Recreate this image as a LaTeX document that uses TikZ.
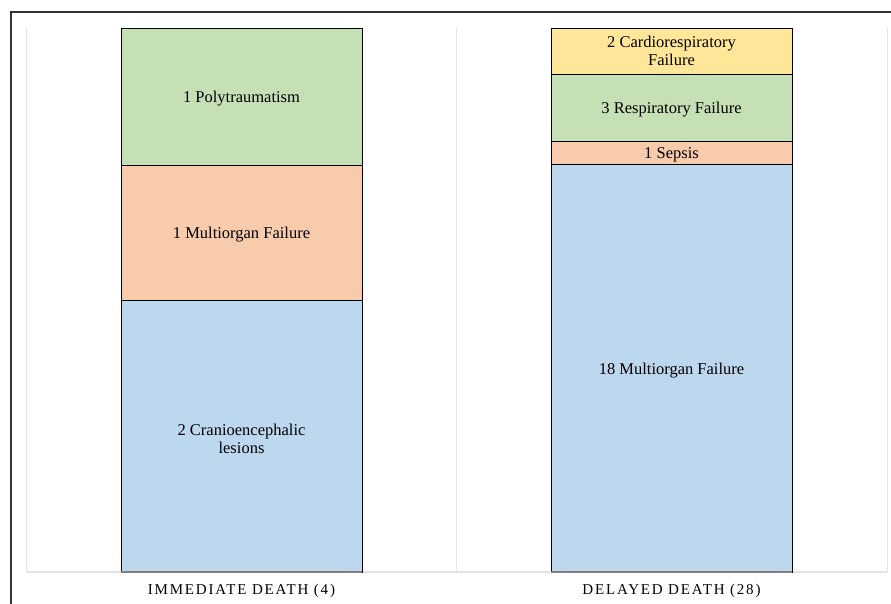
\documentclass[tikz,border=0pt]{standalone}
\usepackage{fontspec}
\setmainfont{Liberation Serif}
\definecolor{cgreen}{HTML}{C5E0B4}
\definecolor{corange}{HTML}{F8CBAD}
\definecolor{cblue}{HTML}{BDD7EE}
\definecolor{cyellow}{HTML}{FFE699}
\definecolor{gridgray}{HTML}{E3E3E3}
\definecolor{framegray}{HTML}{333333}
\tikzset{
  seg/.style={draw=black, line width=0.9pt, inner sep=0pt, outer sep=0pt, minimum width=241pt, anchor=north west},
  segtext/.style={align=center, inner sep=0pt, font=\fontsize{16.5}{18}\selectfont, yshift=-2.5pt},
  catlabel/.style={font=\fontsize{15}{17}\selectfont\addfontfeature{LetterSpace=12}, inner sep=0pt}
}
\begin{document}
\begin{tikzpicture}[x=1pt,y=-1pt]
\useasboundingbox (0,0) rectangle (891,604);
% frame
\draw[framegray, line width=1.3pt] (11,604) -- (11,12) -- (891,12);
% plot area grid
\draw[gridgray, line width=0.8pt] (26,28) -- (26,572);
\draw[gridgray, line width=0.8pt] (456,28) -- (456,572);
\draw[gridgray, line width=0.8pt] (887,28) -- (887,572);
\draw[gridgray, line width=2pt] (26,572) -- (887,572);
% left bar
\node[seg, fill=cgreen, minimum height=137pt] (poly) at (121,28) {};
\node[seg, fill=corange, minimum height=135pt] (multi1) at (121,165) {};
\node[seg, fill=cblue, minimum height=272pt] (cranio) at (121,300) {};
% right bar
\node[seg, fill=cyellow, minimum height=46pt] (cardio) at (551,28) {};
\node[seg, fill=cgreen, minimum height=67pt] (resp) at (551,74) {};
\node[seg, fill=corange, minimum height=23pt] (sepsis) at (551,141) {};
\node[seg, fill=cblue, minimum height=408pt] (multi2) at (551,164) {};
% segment texts
\node[segtext] (tpoly) at (poly.center) {1 Polytraumatism};
\node[segtext] (tmulti1) at (multi1.center) {1 Multiorgan Failure};
\node[segtext] (tcranio) at (cranio.center) {2 Cranioencephalic\\lesions};
\node[segtext, yshift=3pt] (tcardio) at (cardio.center) {2 Cardiorespiratory\\Failure};
\node[segtext] (tresp) at (resp.center) {3 Respiratory Failure};
\node[segtext, yshift=0.5pt] (tsepsis) at (sepsis.center) {1 Sepsis};
\node[segtext] (tmulti2) at (multi2.center) {18 Multiorgan Failure};
% bar bottoms
\draw[gray, line width=1.5pt] (121,572) -- (362,572);
\draw[gray, line width=1.5pt] (551,572) -- (792,572);
% category labels
\node[catlabel] (imm) at (241.5,591) {IMMEDIATE DEATH (4)};
\node[catlabel] (del) at (671.5,591) {DELAYED DEATH (28)};
\end{tikzpicture}
\end{document}
